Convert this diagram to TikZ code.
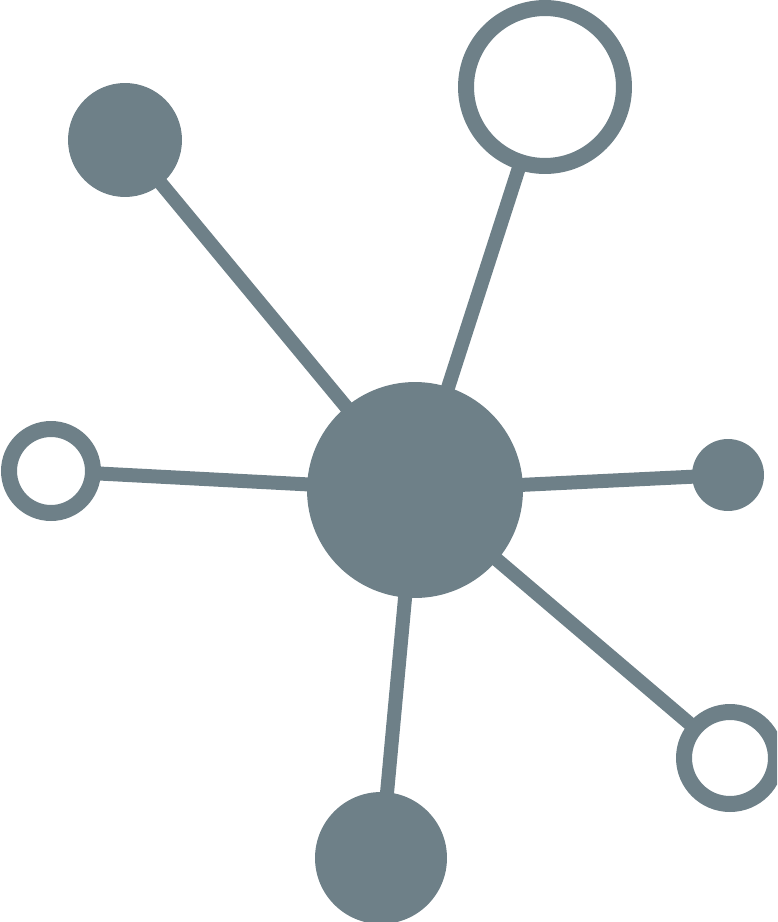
\documentclass[tikz,border=0pt]{standalone}
\usetikzlibrary{backgrounds}
\definecolor{netgray}{RGB}{110,128,136}

\begin{document}
\begin{tikzpicture}[x=0.02cm,y=-0.02cm,
  dot/.style={circle,fill=netgray,inner sep=0pt},
  ring/.style={circle,draw=netgray,fill=white,line width=0.32cm,inner sep=0pt},
  link/.style={draw=netgray,line width=0.28cm}]
\useasboundingbox (0,0) rectangle (777,922);
\clip (0,0) rectangle (777,922);
\node [dot,minimum size=4.32cm] (hub) at (415,490) {};
\node [dot,minimum size=2.28cm] (tl) at (125,140) {};
\node [ring,minimum size=3.16cm] (tr) at (545,87) {};
\node [ring,minimum size=1.68cm] (lf) at (51,471) {};
\node [dot,minimum size=1.44cm] (rt) at (728,475) {};
\node [ring,minimum size=1.84cm] (br) at (730,758) {};
\node [dot,minimum size=2.64cm] (bt) at (381,858) {};
\begin{scope}[on background layer]
\foreach \n in {tl,tr,lf,rt,br,bt}
  \draw [link] (hub.center) -- (\n.center);
\end{scope}
\end{tikzpicture}
\end{document}
